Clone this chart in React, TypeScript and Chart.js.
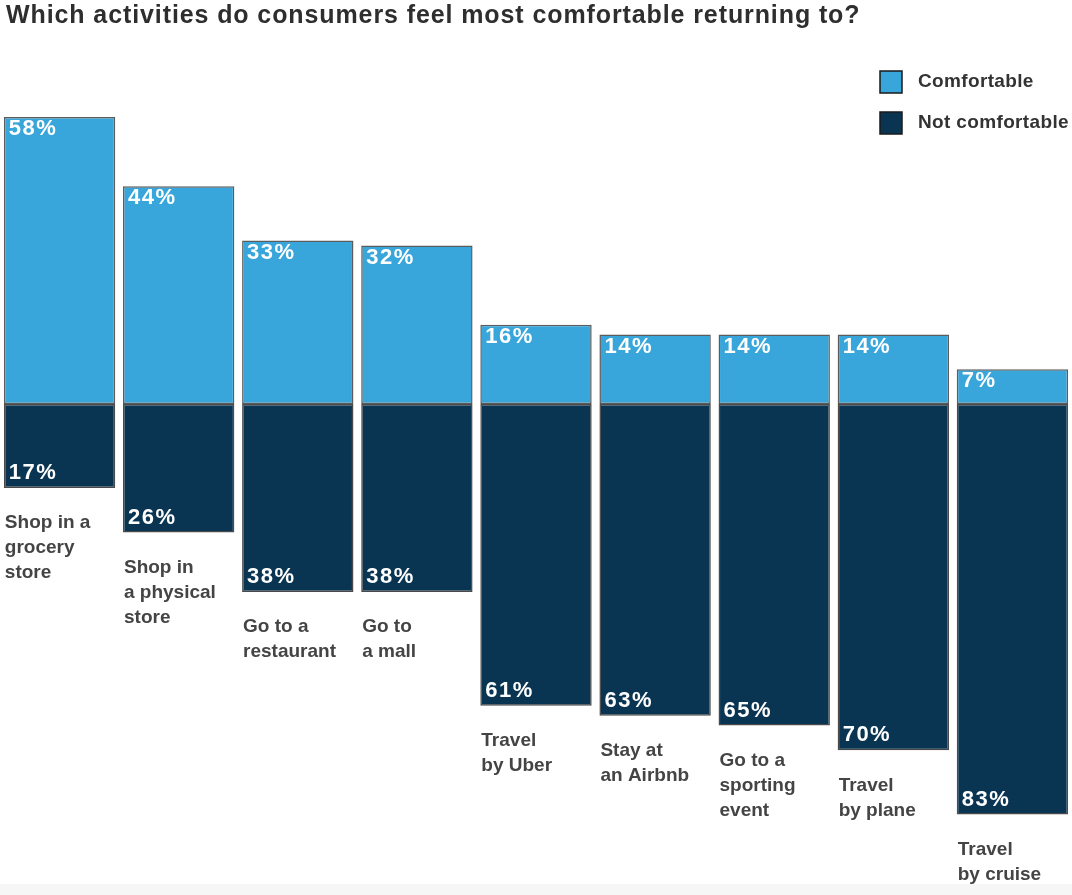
import React, { useEffect, useRef } from "react";
import { Chart, registerables } from "chart.js";

Chart.register(...registerables);

const TITLE = "Which activities do consumers feel most comfortable returning to?";
const categories: string[][] = [
  ["Shop in a", "grocery", "store"],
  ["Shop in", "a physical", "store"],
  ["Go to a", "restaurant"],
  ["Go to", "a mall"],
  ["Travel", "by Uber"],
  ["Stay at", "an Airbnb"],
  ["Go to a", "sporting", "event"],
  ["Travel", "by plane"],
  ["Travel", "by cruise"],
];
const comfortable = [58, 44, 33, 32, 16, 14, 14, 14, 7];
const notComfortable = [17, 26, 38, 38, 61, 63, 65, 70, 83];
const seriesNames = ["Comfortable", "Not comfortable"];
const seriesColors = ["#38a6da", "#0a3552"];

const FONT = '"Liberation Sans", Arial, Helvetica, sans-serif';

const backgroundPlugin = {
  id: "bg",
  beforeDraw(chart: any) {
    const ctx = chart.ctx as CanvasRenderingContext2D;
    ctx.save();
    ctx.fillStyle = "#ffffff";
    ctx.fillRect(0, 0, chart.width, chart.height);
    ctx.fillStyle = "#f6f6f6";
    ctx.fillRect(0, 884, chart.width, chart.height - 884);
    ctx.restore();
  },
};

const overlayPlugin = {
  id: "overlay",
  afterDatasetsDraw(chart: any) {
    const ctx = chart.ctx as CanvasRenderingContext2D;
    ctx.save();
    // title
    ctx.fillStyle = "#2e2e2e";
    ctx.font = `bold 25px ${FONT}`;
    (ctx as any).letterSpacing = "0.9px";
    ctx.textAlign = "left";
    ctx.textBaseline = "middle";
    ctx.fillText(TITLE, 6, 16);

    // legend
    ctx.font = `bold 19px ${FONT}`;
    (ctx as any).letterSpacing = "0.35px";
    seriesNames.forEach((name, i) => {
      const y = 71 + i * 41;
      ctx.fillStyle = seriesColors[i];
      ctx.fillRect(880, y, 22, 22);
      ctx.strokeStyle = "#1a1a1a";
      ctx.lineWidth = 1.5;
      ctx.strokeRect(880, y, 22, 22);
      ctx.fillStyle = "#333333";
      ctx.fillText(name, 918, y + 11);
    });

    const metaC = chart.getDatasetMeta(0);
    const metaN = chart.getDatasetMeta(1);
    metaC.data.forEach((el: any, i: number) => {
      const left = el.x - el.width / 2;
      ctx.fillStyle = "#ffffff";
      ctx.font = `bold 22px ${FONT}`;
      (ctx as any).letterSpacing = "1.5px";
      ctx.fillText(`${comfortable[i]}%`, left + 5, el.y + 12);
    });
    metaN.data.forEach((el: any, i: number) => {
      const left = el.x - el.width / 2;
      const bottom = el.y;
      ctx.fillStyle = "#ffffff";
      ctx.font = `bold 22px ${FONT}`;
      (ctx as any).letterSpacing = "1.5px";
      ctx.fillText(`${notComfortable[i]}%`, left + 5, bottom - 15);
      ctx.fillStyle = "#444444";
      ctx.font = `bold 19px ${FONT}`;
      (ctx as any).letterSpacing = "0px";
      categories[i].forEach((line, j) => {
        ctx.fillText(line, left + 1, bottom + 35 + j * 25);
      });
    });
    ctx.restore();
  },
};

export default function App() {
  const ref = useRef<HTMLCanvasElement | null>(null);
  useEffect(() => {
    if (!ref.current) return;
    const chart = new Chart(ref.current, {
      type: "bar",
      data: {
        labels: categories.map((c) => c.join(" ")),
        datasets: [
          {
            label: seriesNames[0],
            data: comfortable,
            backgroundColor: seriesColors[0],
            borderColor: "#5c5c5c",
            borderWidth: 1.5,
            borderSkipped: false,
          },
          {
            label: seriesNames[1],
            data: notComfortable.map((v) => -v),
            backgroundColor: seriesColors[1],
            borderColor: "#4a4a4a",
            borderWidth: 1.5,
            borderSkipped: false,
          },
        ],
      },
      options: {
        responsive: false,
        animation: false,
        events: [],
        layout: { padding: { top: 57.5, bottom: 21, left: 0, right: 0 } },
        datasets: { bar: { categoryPercentage: 1, barPercentage: 0.935 } },
        plugins: {
          legend: { display: false },
          title: { display: false },
          tooltip: { enabled: false },
        },
        scales: {
          x: { display: false, stacked: true, grid: { display: false } },
          y: { display: false, stacked: true, min: -95, max: 70 },
        },
      },
      plugins: [backgroundPlugin, overlayPlugin],
    });
    return () => chart.destroy();
  }, []);
  return (
    <div style={{ position: "absolute", left: 0, top: 0, width: 1072, height: 895, background: "#ffffff" }}>
      <canvas ref={ref} width={1072} height={895} style={{ display: "block" }} />
    </div>
  );
}
